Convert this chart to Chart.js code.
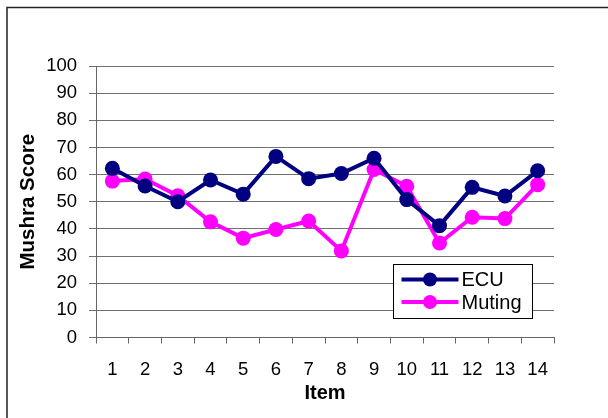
<!DOCTYPE html>
<html><head><meta charset="utf-8">
<script src="https://cdn.jsdelivr.net/npm/chart.js@4.4.1/dist/chart.umd.min.js"></script>
<style>html,body{margin:0;padding:0;background:#fff}#wrap{width:608px;height:418px}</style>
</head><body><div id="wrap"><canvas id="c" width="608" height="418"></canvas></div>
<script>
const items = ["1","2","3","4","5","6","7","8","9","10","11","12","13","14"];
const ecu = [62.3, 55.8, 50.0, 58.0, 52.8, 66.7, 58.5, 60.4, 66.0, 50.8, 41.2, 55.3, 52.1, 61.4];
const muting = [57.6, 58.4, 52.2, 42.6, 36.6, 39.8, 42.9, 31.9, 61.9, 55.7, 34.8, 44.3, 43.8, 56.3];
const yTicks = [0,10,20,30,40,50,60,70,80,90,100];
const seriesNames = ["ECU", "Muting"];
const FONT = "'Liberation Sans', Arial, sans-serif";

const frame = {
  id: 'frame',
  beforeDraw(chart) {
    const ctx = chart.ctx;
    ctx.save();
    ctx.fillStyle = '#fff';
    ctx.fillRect(0,0,chart.width,chart.height);
    ctx.strokeStyle = '#222';
    ctx.lineWidth = 1.5;
    ctx.beginPath();
    ctx.moveTo(7, 420); ctx.lineTo(7, 7.5); ctx.lineTo(610, 7.5);
    ctx.stroke();
    ctx.restore();
  }
};

const boxLegend = {
  id: 'boxLegend',
  afterDraw(chart) {
    const ctx = chart.ctx;
    const x0 = 393.5, y0 = 264.5, w = 139, h = 54;
    ctx.save();
    ctx.fillStyle = '#fff';
    ctx.fillRect(x0, y0, w, h);
    ctx.strokeStyle = '#000';
    ctx.lineWidth = 1;
    ctx.strokeRect(x0, y0, w, h);
    chart.data.datasets.forEach((ds, i) => {
      const y = y0 + 15 + i * 22.5;
      ctx.strokeStyle = ds.borderColor;
      ctx.lineWidth = 4;
      ctx.beginPath(); ctx.moveTo(x0 + 8, y); ctx.lineTo(x0 + 65, y); ctx.stroke();
      ctx.fillStyle = ds.backgroundColor;
      ctx.beginPath(); ctx.arc(x0 + 36.5, y, 7, 0, Math.PI * 2); ctx.fill();
      ctx.fillStyle = '#000';
      ctx.font = '20px ' + FONT;
      ctx.textBaseline = 'middle';
      ctx.textAlign = 'left';
      ctx.fillText(ds.label, x0 + 68, y + 1);
    });
    ctx.restore();
  }
};

new Chart(document.getElementById('c'), {
  type: 'line',
  data: {
    labels: items,
    datasets: [
      { label: seriesNames[0], data: ecu, borderColor: '#000080', backgroundColor: '#000080', borderWidth: 4, pointRadius: 7.5, pointBorderWidth: 0, tension: 0 },
      { label: seriesNames[1], data: muting, borderColor: '#FF00FF', backgroundColor: '#FF00FF', borderWidth: 4, pointRadius: 7.5, pointBorderWidth: 0, tension: 0 }
    ]
  },
  options: {
    responsive: false,
    animation: false,
    layout: { padding: { top: 66, right: 54, left: 0, bottom: 0 } },
    plugins: { legend: { display: false }, tooltip: { enabled: false } },
    scales: {
      x: {
        offset: true,
        grid: { offset: true, drawOnChartArea: false, drawTicks: true, tickLength: 6, color: '#666' },
        border: { color: '#666', width: 1 },
        ticks: { color: '#000', font: { size: 18.5, family: FONT }, padding: 15.5, maxRotation: 0, autoSkip: false },
        title: { display: true, text: 'Item', color: '#000', font: { size: 20, weight: 'bold', family: FONT }, padding: { top: 2, bottom: 13 } },
        afterFit(s) { s.height = 80.5; }
      },
      y: {
        min: 0, max: 100,
        afterBuildTicks(s) { s.ticks = yTicks.map(v => ({ value: v })); },
        grid: { color: '#707070', lineWidth: 1, tickLength: 7 },
        border: { color: '#666', width: 1 },
        ticks: { color: '#000', font: { size: 18.5, family: FONT }, padding: 12 },
        title: { display: true, text: 'Mushra Score', color: '#000', font: { size: 20.5, weight: 'bold', family: FONT }, padding: { top: 16, bottom: 0 } },
        afterFit(s) { s.width = 96; }
      }
    }
  },
  plugins: [frame, boxLegend]
});
</script></body></html>
